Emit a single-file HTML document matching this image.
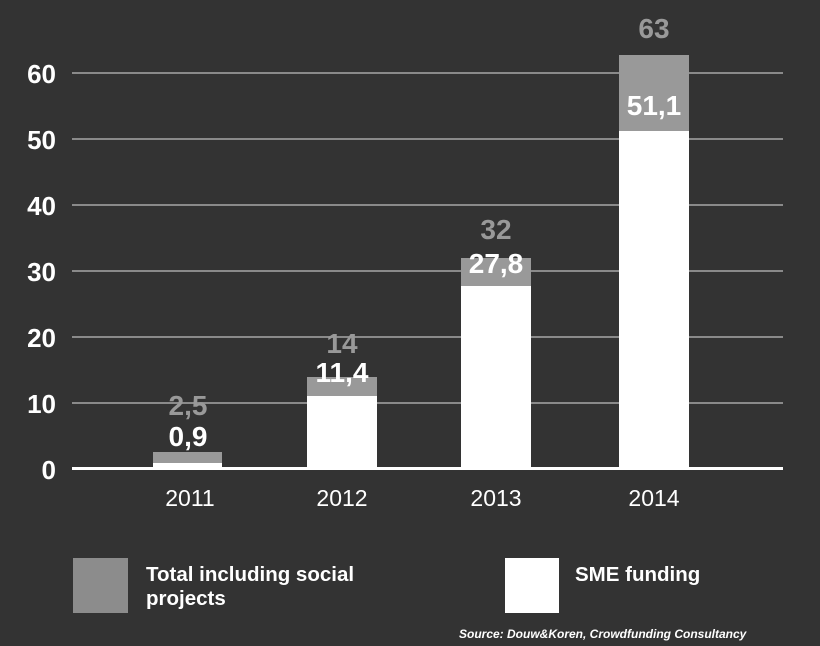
<!DOCTYPE html>
<html><head><style>
body{margin:0;width:820px;height:646px;background:#333;position:relative;overflow:hidden;font-family:"Liberation Sans",Arial,sans-serif;}
div{position:absolute}
.g{left:72px;width:711px;height:2px;background:#8a8a8a}
.t{left:0;width:56px;text-align:right;color:#fff;font-weight:bold;font-size:26px;line-height:26px}
.y{color:#fff;font-size:23px;width:100px;text-align:center;top:485px}
.v{width:100px;text-align:center;font-weight:bold;font-size:28px;line-height:28px}
.gb{background:#999}.wb{background:#fff}
</style></head><body>
<div class="g" style="top:72px"></div>
<div class="g" style="top:138px"></div>
<div class="g" style="top:204px"></div>
<div class="g" style="top:270px"></div>
<div class="g" style="top:336px"></div>
<div class="g" style="top:402px"></div>
<div class="t" style="top:61px">60</div>
<div class="t" style="top:127px">50</div>
<div class="t" style="top:193px">40</div>
<div class="t" style="top:259px">30</div>
<div class="t" style="top:325px">20</div>
<div class="t" style="top:391px">10</div>
<div class="t" style="top:457px">0</div>

<div class="gb" style="left:153px;width:69px;top:452px;height:17px"></div>
<div class="wb" style="left:153px;width:69px;top:463px;height:6px"></div>
<div class="gb" style="left:307px;width:70px;top:377px;height:92px"></div>
<div class="wb" style="left:307px;width:70px;top:396px;height:73px"></div>
<div class="gb" style="left:461px;width:70px;top:258px;height:211px"></div>
<div class="wb" style="left:461px;width:70px;top:286px;height:183px"></div>
<div class="gb" style="left:619px;width:70px;top:55px;height:414px"></div>
<div class="wb" style="left:619px;width:70px;top:131px;height:338px"></div>
<div style="left:72px;width:711px;top:467px;height:3px;background:#fff"></div>

<div class="v" style="left:138px;top:392px;color:#999">2,5</div>
<div class="v" style="left:138px;top:423px;color:#fff">0,9</div>
<div class="v" style="left:292px;top:330px;color:#999">14</div>
<div class="v" style="left:292px;top:359px;color:#fff">11,4</div>
<div class="v" style="left:446px;top:216px;color:#999">32</div>
<div class="v" style="left:446px;top:250px;color:#fff">27,8</div>
<div class="v" style="left:604px;top:15px;color:#999">63</div>
<div class="v" style="left:604px;top:92px;color:#fff">51,1</div>

<div class="y" style="left:140px">2011</div>
<div class="y" style="left:292px">2012</div>
<div class="y" style="left:446px">2013</div>
<div class="y" style="left:604px">2014</div>

<div style="left:73px;top:558px;width:55px;height:55px;background:#8c8c8c"></div>
<div style="left:146px;top:563px;color:#fff;font-weight:bold;font-size:20.5px;line-height:24px">Total including social<br>projects</div>
<div style="left:505px;top:558px;width:54px;height:55px;background:#fff"></div>
<div style="left:575px;top:563px;color:#fff;font-weight:bold;font-size:20.5px;line-height:24px">SME funding</div>
<div style="left:459px;top:627px;color:#fff;font-weight:bold;font-style:italic;font-size:12px">Source: Douw&amp;Koren, Crowdfunding Consultancy</div>
</body></html>
